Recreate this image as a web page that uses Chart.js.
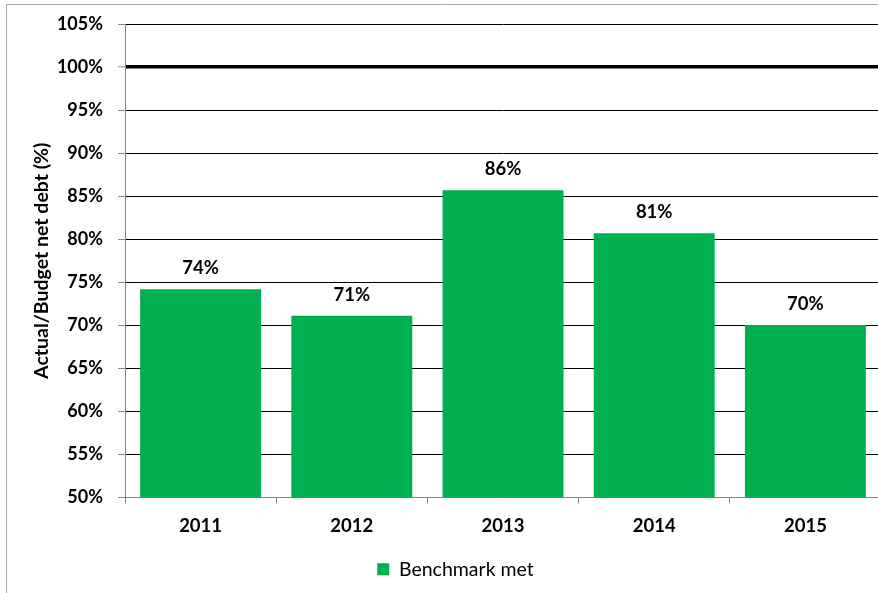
<!DOCTYPE html>
<html>
<head>
<meta charset="utf-8">
<script src="https://cdn.jsdelivr.net/npm/chart.js@4/dist/chart.umd.min.js"></script>
<style>
  html, body { margin: 0; padding: 0; background: #fff; overflow: hidden; }
  #wrap { position: relative; width: 878px; height: 593px; overflow: hidden; }
</style>
</head>
<body>
<div id="wrap"><canvas id="chart" width="881" height="593"></canvas></div>
<script>
// Net debt outturn against budget, per year
const years = ['2011', '2012', '2013', '2014', '2015'];
const actualToBudget = [74.2, 71.1, 85.7, 80.7, 70.05];
const seriesName = 'Benchmark met';
const yTitle = 'Actual/Budget net debt (%)';
const yMin = 50;
const yMax = 105;
const yStep = 5;
const benchmarkLevel = 100;

const GREEN = '#00B050';
const AXIS_GREY = '#868686';
const FONT = 'Lato, "Open Sans", sans-serif';

// Light frame along the top and left edge of the chart object
const framePlugin = {
  id: 'frame',
  beforeDraw(chart) {
    const ctx = chart.ctx;
    ctx.save();
    ctx.fillStyle = '#fff';
    ctx.fillRect(0, 0, chart.width, chart.height);
    ctx.strokeStyle = '#a6a6a6';
    ctx.lineWidth = 1;
    ctx.beginPath();
    ctx.moveTo(6.5, chart.height + 5);
    ctx.lineTo(6.5, 4.5);
    ctx.lineTo(chart.width + 5, 4.5);
    ctx.stroke();
    ctx.restore();
  }
};

// Percentage labels above each bar
const valueLabelPlugin = {
  id: 'valueLabels',
  afterDatasetsDraw(chart) {
    const ctx = chart.ctx;
    ctx.save();
    ctx.font = 'bold 18.5px ' + FONT;
    ctx.fillStyle = '#000';
    ctx.textAlign = 'center';
    ctx.textBaseline = 'middle';
    chart.getDatasetMeta(0).data.forEach((bar, i) => {
      const v = chart.data.datasets[0].data[i];
      ctx.fillText(Math.round(v) + '%', bar.x, bar.y - 21);
    });
    ctx.restore();
  }
};

new Chart(document.getElementById('chart'), {
  type: 'bar',
  data: {
    labels: years,
    datasets: [{
      label: seriesName,
      data: actualToBudget,
      backgroundColor: GREEN,
      borderWidth: 0,
      barPercentage: 0.8,
      categoryPercentage: 1.0
    }]
  },
  options: {
    responsive: false,
    animation: false,
    devicePixelRatio: 1,
    layout: { padding: { left: 30, top: 22, right: 0, bottom: 4 } },
    plugins: {
      tooltip: { enabled: false },
      legend: {
        position: 'bottom',
        labels: {
          boxWidth: 12,
          boxHeight: 12,
          padding: 9,
          color: '#000',
          font: { family: FONT, size: 19.5 }
        }
      }
    },
    scales: {
      x: {
        border: { color: AXIS_GREY, width: 1 },
        grid: {
          offset: true,
          drawOnChartArea: false,
          drawTicks: true,
          tickLength: 6,
          color: AXIS_GREY
        },
        ticks: {
          color: '#000',
          padding: 11,
          font: { family: FONT, size: 18.5, weight: 'bold' }
        },
        afterFit(scale) { scale.height = 53; }
      },
      y: {
        min: yMin,
        max: yMax,
        border: { color: AXIS_GREY, width: 1 },
        grid: {
          color: ctx => ctx.tick && ctx.tick.value === yMin ? AXIS_GREY : '#000',
          lineWidth: ctx => ctx.tick && ctx.tick.value === benchmarkLevel ? 3.5 : 1,
          tickColor: AXIS_GREY,
          tickLength: 7,
          tickWidth: 1
        },
        ticks: {
          stepSize: yStep,
          color: '#000',
          padding: 15,
          font: { family: FONT, size: 18, weight: 'bold', lineHeight: 1 },
          callback: v => v + '%'
        },
        title: {
          display: true,
          text: yTitle,
          color: '#000',
          padding: { top: 0, bottom: 2 },
          font: { family: FONT, size: 19.5, weight: 'bold' }
        },
        afterFit(scale) { scale.width = 95; }
      }
    }
  },
  plugins: [framePlugin, valueLabelPlugin]
});
</script>
</body>
</html>
